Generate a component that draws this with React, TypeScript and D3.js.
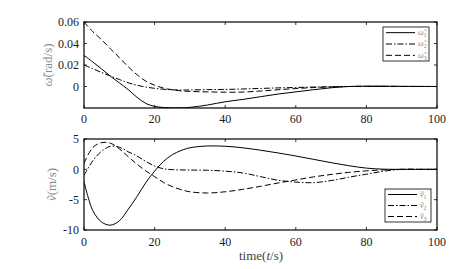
import React from "react";
import * as d3 from "d3";

// time samples (s)
const timeS = [0, 2.5, 5, 7.5, 10, 12.5, 15, 17.5, 20, 22.5, 25, 27.5, 30, 35, 40, 45, 50, 55, 60, 65, 70, 75, 80, 85, 90, 95, 100];

// angular velocity errors (rad/s)
const omega1 = [0.029, 0.0228, 0.0163, 0.0095, 0.0034, -0.0028, -0.010, -0.0157, -0.0185, -0.0195, -0.0199, -0.0198, -0.0194, -0.0172, -0.0142, -0.012, -0.0095, -0.007, -0.005, -0.003, -0.0012, 0, 0.0003, 0.0003, 0.0002, 0.0001, 0];
const omega2 = [0.020, 0.0165, 0.013, 0.0098, 0.0065, 0.0035, 0.0012, -0.0005, -0.0017, -0.0026, -0.0031, -0.0033, -0.0032, -0.0029, -0.0027, -0.0023, -0.0018, -0.0013, -0.0009, -0.0005, -0.0002, 0, 0.0001, 0.0001, 0, 0, 0];
const omega3 = [0.060, 0.051, 0.0435, 0.035, 0.027, 0.0185, 0.011, 0.005, 0.0012, -0.0015, -0.003, -0.0041, -0.0046, -0.005, -0.0053, -0.0052, -0.0042, -0.003, -0.0019, -0.001, -0.0004, 0, 0.0001, 0.0001, 0, 0, 0];

// velocity errors (m/s)
const vel1 = [-2.0, -6.8, -8.7, -9.2, -8.5, -6.6, -4.5, -2.2, -0.3, 1.3, 2.4, 3.1, 3.55, 3.85, 3.8, 3.55, 3.15, 2.7, 2.2, 1.65, 1.1, 0.6, 0.2, 0.02, 0, 0, 0];
const vel2 = [-1.0, 1.4, 3.0, 3.8, 3.65, 2.9, 2.2, 1.3, 0.55, 0.1, -0.05, -0.1, -0.12, -0.15, -0.3, -0.6, -1.2, -1.8, -2.1, -2.2, -1.85, -1.3, -0.8, -0.3, 0, 0, 0];
const vel3 = [1.0, 3.6, 4.4, 4.3, 3.4, 2.1, 0.85, -0.25, -1.2, -2.15, -2.85, -3.35, -3.7, -3.9, -3.7, -3.3, -2.8, -2.25, -1.75, -1.25, -0.85, -0.5, -0.25, -0.08, 0, 0, 0];

const xTicks = [0, 20, 40, 60, 80, 100];
const omegaTicks = [0, 0.02, 0.04, 0.06];
const velTicks = [-10, -5, 0, 5];

const W = 469;
const H = 269;
const left = 84;
const right = 437;
const serif = "Liberation Serif, Times New Roman, Tinos, DejaVu Serif, serif";
const dashes = ["none", "6,2,1.5,2", "6,3"];

interface PanelProps {
  top: number;
  bottom: number;
  domain: [number, number];
  yTicks: number[];
  series: number[][];
  tickFmt: (v: number) => string;
  xLabelY: number;
  ySymbol: string;
  yUnit: string;
  yLabelX: number;
  legend: { x: number; y: number; w: number; h: number };
}

function Panel(p: PanelProps) {
  const x = d3.scaleLinear().domain([0, 100]).range([left, right]);
  const y = d3.scaleLinear().domain(p.domain).range([p.bottom, p.top]);
  const line = d3
    .line<number>()
    .x((_, i) => x(timeS[i]))
    .y((d) => y(d))
    .curve(d3.curveCatmullRom.alpha(0.5));
  const tl = 3;
  const rowH = p.legend.h / 3;
  return (
    <g>
      <defs>
        <clipPath id={`clip${p.top}`}>
          <rect x={left} y={p.top} width={right - left} height={p.bottom - p.top} />
        </clipPath>
      </defs>
      <g clipPath={`url(#clip${p.top})`} fill="none" stroke="#000" strokeWidth={1}>
        {p.series.map((s, i) => (
          <path key={i} d={line(s) || ""} strokeDasharray={dashes[i]} />
        ))}
      </g>
      {/* ticks */}
      <g stroke="#000" strokeWidth={0.8}>
        {xTicks.map((t) => (
          <g key={t}>
            <line x1={x(t)} x2={x(t)} y1={p.bottom} y2={p.bottom - tl} />
            <line x1={x(t)} x2={x(t)} y1={p.top} y2={p.top + tl} />
          </g>
        ))}
        {p.yTicks.map((t) => (
          <g key={t}>
            <line x1={left} x2={left + tl} y1={y(t)} y2={y(t)} />
            <line x1={right} x2={right - tl} y1={y(t)} y2={y(t)} />
          </g>
        ))}
      </g>
      <rect x={left} y={p.top} width={right - left} height={p.bottom - p.top} fill="none" stroke="#000" strokeWidth={1.2} />
      <g style={{ fontFamily: serif, fontSize: 12 }} fill="#1a1a2a">
        {xTicks.map((t) => (
          <text key={t} x={x(t)} y={p.xLabelY} textAnchor="middle">{t}</text>
        ))}
        {p.yTicks.map((t) => (
          <text key={t} x={left - 5} y={y(t)} dy="0.35em" textAnchor="end">{p.tickFmt(t)}</text>
        ))}
      </g>
      <text
        transform={`translate(${p.yLabelX},${(p.top + p.bottom) / 2}) rotate(-90)`}
        textAnchor="middle"
        style={{ fontFamily: serif, fontSize: 13 }}
        fill="#8a8a8a"
      >
        <tspan fontStyle="italic">{p.ySymbol}</tspan>
        {p.yUnit}
      </text>
      {/* legend */}
      <rect x={p.legend.x} y={p.legend.y} width={p.legend.w} height={p.legend.h} fill="#fff" stroke="#000" strokeWidth={0.8} />
      {p.series.map((_, i) => {
        const ly = p.legend.y + rowH * (i + 0.5);
        return (
          <g key={i}>
            <line x1={p.legend.x + 3} x2={p.legend.x + 32} y1={ly} y2={ly} stroke="#000" strokeWidth={1} strokeDasharray={dashes[i]} />
            <text x={p.legend.x + 35} y={ly} dy="0.3em" style={{ fontFamily: serif, fontSize: 8 }} fill="#888">
              <tspan fontStyle="italic">{p.ySymbol}</tspan>
              <tspan fontSize={6} dy="2">{i + 1}</tspan>
            </text>
          </g>
        );
      })}
    </g>
  );
}

export default function App() {
  return (
    <svg width={W} height={H} style={{ position: "absolute", left: 0, top: 0, background: "#fff" }}>
      <Panel
        top={22}
        bottom={108}
        domain={[-0.02, 0.06]}
        yTicks={omegaTicks}
        series={[omega1, omega2, omega3]}
        tickFmt={(v) => (v === 0 ? "0" : v.toFixed(2))}
        xLabelY={123}
        ySymbol={"\u03C9\u0303"}
        yUnit="(rad/s)"
        yLabelX={52}
        legend={{ x: 383, y: 27, w: 46, h: 34 }}
      />
      <Panel
        top={139}
        bottom={230}
        domain={[-10, 5]}
        yTicks={velTicks}
        series={[vel1, vel2, vel3]}
        tickFmt={(v) => String(v)}
        xLabelY={246}
        ySymbol={"\u1E7D"}
        yUnit="(m/s)"
        yLabelX={56}
        legend={{ x: 385, y: 189, w: 46, h: 33 }}
      />
      <text x={261} y={260} textAnchor="middle" style={{ fontFamily: serif, fontSize: 13 }} fill="#444">
        time(<tspan fontStyle="italic">t</tspan>/s)
      </text>
    </svg>
  );
}
